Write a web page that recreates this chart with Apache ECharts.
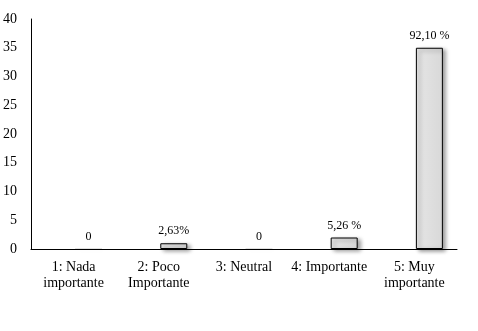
<!DOCTYPE html>
<html><head><meta charset="utf-8">
<script src="https://cdn.jsdelivr.net/npm/echarts@6/dist/echarts.min.js"></script>
<style>html,body{margin:0;padding:0;background:#fff}#c{width:478px;height:331px}</style>
</head><body><div id="c"></div>
<script>
const categories = ["1: Nada\nimportante", "2: Poco\nImportante", "3: Neutral", "4: Importante", "5: Muy\nimportante"];
const values = [0, 1, 0, 2, 35];
const valueLabels = ["0", "2,63%", "0", "5,26 %", "92,10 %"];
const yTicks = {min: 0, max: 40, interval: 5};

const font = '"Liberation Serif", "Times New Roman", serif';
const chart = echarts.init(document.getElementById('c'), null, {renderer: 'canvas'});
const seriesData = values.map(v => v === 0
  ? {value: v, itemStyle: {borderColor: 'rgba(0,0,0,0.12)', borderWidth: 1, shadowColor: 'rgba(0,0,0,0.15)'}}
  : {value: v});
chart.setOption({
  animation: false,
  grid: {left: 30, right: 21, top: 19, bottom: 82, containLabel: false},
  xAxis: {
    type: 'category', data: categories,
    axisLine: {lineStyle: {color: '#000', width: 1}},
    axisTick: {show: false},
    axisLabel: {color: '#000', fontFamily: font, fontSize: 14, lineHeight: 16, margin: 10, interval: 0}
  },
  yAxis: {
    type: 'value', min: yTicks.min, max: yTicks.max, interval: yTicks.interval,
    axisLine: {show: true, lineStyle: {color: '#000', width: 1}},
    axisTick: {show: false},
    splitLine: {show: false},
    axisLabel: {color: '#000', fontFamily: font, fontSize: 14, margin: 14}
  },
  series: [
    {type: 'bar', data: values.map(() => null), barWidth: 27, barGap: '11%', silent: true},
    {
      type: 'bar', data: seriesData, barWidth: 27, barGap: '11%',
      itemStyle: {
        color: new echarts.graphic.LinearGradient(0, 0, 1, 0, [
          {offset: 0, color: '#e6e6e6'}, {offset: 1, color: '#d8d8d8'}
        ]),
        borderColor: '#000', borderWidth: 1,
        shadowColor: 'rgba(0,0,0,0.4)', shadowBlur: 4, shadowOffsetX: 3, shadowOffsetY: 2
      },
      label: {
        show: true, position: 'top', distance: 6, color: '#000',
        fontFamily: font, fontSize: 12,
        formatter: p => valueLabels[p.dataIndex]
      }
    }
  ]
});
</script></body></html>
